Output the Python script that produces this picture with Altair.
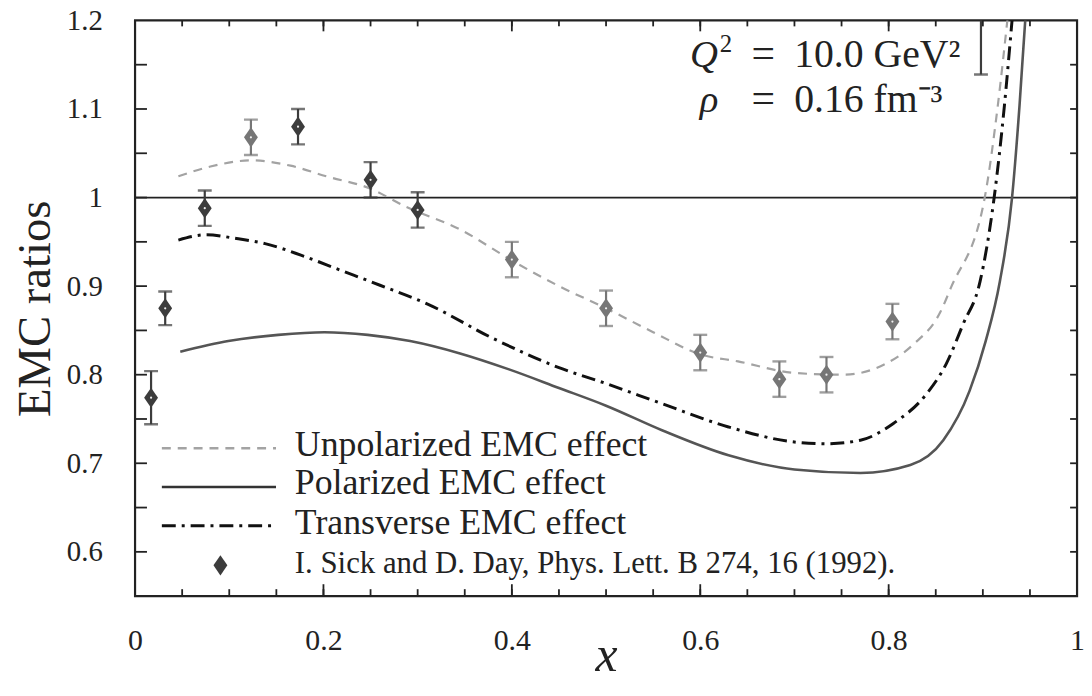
import altair as alt
import pandas as pd

# ---------------- data ----------------
pt_x = [0.017, 0.032, 0.074, 0.123, 0.173, 0.250, 0.300, 0.400, 0.500, 0.600, 0.684, 0.734, 0.804, 0.898]
pt_y = [0.774, 0.875, 0.988, 1.068, 1.080, 1.020, 0.986, 0.930, 0.875, 0.825, 0.795, 0.800, 0.860, 1.220]
pt_err = [0.030, 0.019, 0.020, 0.020, 0.020, 0.020, 0.020, 0.020, 0.020, 0.020, 0.020, 0.020, 0.020, 0.081]
pt_shade = ["dark", "dark", "dark", "grey", "dark", "dark", "dark",
            "grey", "grey", "grey", "grey", "grey", "grey", "dark"]

unpol_x = [0.046, 0.080, 0.123, 0.165, 0.203, 0.250, 0.287, 0.345, 0.400, 0.450, 0.500, 0.550,
           0.600, 0.640, 0.700, 0.752, 0.798, 0.826, 0.855, 0.866, 0.902, 0.916, 0.926, 0.932]
unpol_y = [1.024, 1.035, 1.042, 1.036, 1.024, 1.010, 0.990, 0.964, 0.929, 0.900, 0.875, 0.848,
           0.823, 0.815, 0.802, 0.800, 0.813, 0.834, 0.871, 0.898, 1.000, 1.105, 1.200, 1.260]

pol_x = [0.048, 0.099, 0.152, 0.201, 0.247, 0.292, 0.345, 0.397, 0.450, 0.500, 0.560, 0.630,
         0.700, 0.770, 0.823, 0.858, 0.886, 0.903, 0.918, 0.931, 0.939, 0.945, 0.950]
pol_y = [0.826, 0.838, 0.845, 0.848, 0.845, 0.838, 0.824, 0.806, 0.785, 0.765, 0.737, 0.709,
         0.693, 0.689, 0.698, 0.726, 0.782, 0.838, 0.905, 1.000, 1.105, 1.200, 1.260]

trans_x = [0.046, 0.076, 0.106, 0.138, 0.176, 0.218, 0.260, 0.310, 0.380, 0.450, 0.500, 0.560,
           0.630, 0.700, 0.734, 0.770, 0.805, 0.840, 0.861, 0.879, 0.897, 0.912, 0.923, 0.931, 0.936]
trans_y = [0.952, 0.958, 0.954, 0.948, 0.935, 0.918, 0.901, 0.880, 0.841, 0.808, 0.790, 0.767,
           0.741, 0.724, 0.722, 0.726, 0.745, 0.778, 0.812, 0.857, 0.905, 1.000, 1.105, 1.200, 1.260]

reference_line = [1.0]

x_tick_values = [0, 0.2, 0.4, 0.6, 0.8, 1]
y_tick_values = [0.6, 0.7, 0.8, 0.9, 1.0, 1.1, 1.2]
x_minor_ticks = [0.05, 0.10, 0.15, 0.20, 0.25, 0.30, 0.35, 0.40, 0.45, 0.50, 0.55, 0.60,
                 0.65, 0.70, 0.75, 0.80, 0.85, 0.90, 0.95]
x_major_ticks = [0.2, 0.4, 0.6, 0.8]
y_minor_ticks = [0.60, 0.65, 0.70, 0.75, 0.80, 0.85, 0.90, 0.95, 1.00, 1.05, 1.10, 1.15]

legend_labels = ["Unpolarized EMC effect", "Polarized EMC effect", "Transverse EMC effect",
                 "I. Sick and D. Day, Phys. Lett. B 274, 16 (1992)."]

# ---------------- styling ----------------
FONT = "Liberation Serif"
W, H = 949, 580
DARK = "#3c3c3c"
GREY = "#767676"

xs = alt.Scale(domain=[0, 1], nice=False, zero=False)
ys = alt.Scale(domain=[0.55, 1.2], nice=False, zero=False)

xaxis = alt.Axis(title="x", values=x_tick_values, format=".1~f", ticks=False, domain=False,
                 grid=False, labelFont=FONT, labelFontSize=30, labelColor="#222",
                 labelPadding=54, labelBaseline="alphabetic", labelFlush=False,
                 labelOverlap=False, titleFont=FONT, titleFontSize=50, titleFontStyle="italic",
                 titleFontWeight="normal", titleColor="#222", titleBaseline="alphabetic",
                 titleX=W / 2, titleY=75)
yaxis = alt.Axis(title="EMC ratios", values=y_tick_values, format=".1~f", ticks=False,
                 domain=False, grid=False, labelFont=FONT, labelFontSize=29, labelColor="#222",
                 labelPadding=33, labelFlush=False, labelOverlap=False, titleFont=FONT,
                 titleFontSize=47, titleFontWeight="normal", titleColor="#222",
                 titleBaseline="alphabetic", titleAngle=270, titleX=-86, titleY=H / 2)


def X(f):
    return alt.X(f, type="quantitative", scale=xs, axis=xaxis)


def Y(f):
    return alt.Y(f, type="quantitative", scale=ys, axis=yaxis)


# ---------------- tables ----------------
pts = pd.DataFrame({"x": pt_x, "y": pt_y, "err": pt_err, "shade": pt_shade})
pts["lo"] = pts["y"] - pts["err"]
pts["hi"] = pts["y"] + pts["err"]

curves = {
    "unpol": pd.DataFrame({"x": unpol_x, "y": unpol_y}),
    "pol": pd.DataFrame({"x": pol_x, "y": pol_y}),
    "trans": pd.DataFrame({"x": trans_x, "y": trans_y}),
}

shade_color = alt.Color("shade:N", scale=alt.Scale(domain=["dark", "grey"], range=[DARK, GREY]),
                        legend=None)

layers = []

# horizontal reference line at 1
layers.append(alt.Chart(pd.DataFrame({"y": reference_line})).mark_rule(
    color="#222", strokeWidth=1.7).encode(y=Y("y")))

# theory curves
layers.append(alt.Chart(curves["unpol"]).mark_line(
    color="#a3a3a3", strokeWidth=2.2, strokeDash=[9, 7], interpolate="monotone", clip=True
).encode(x=X("x"), y=Y("y")))
layers.append(alt.Chart(curves["pol"]).mark_line(
    color="#555555", strokeWidth=2.6, interpolate="monotone", clip=True
).encode(x=X("x"), y=Y("y")))
layers.append(alt.Chart(curves["trans"]).mark_line(
    color="#111111", strokeWidth=3, strokeDash=[14, 6, 3, 6], interpolate="monotone", clip=True
).encode(x=X("x"), y=Y("y")))

# data points: error bars, caps, diamonds
pt_base = alt.Chart(pts)
layers.append(pt_base.mark_rule(strokeWidth=2.2, clip=True).encode(
    x=X("x"), y=Y("lo"), y2=alt.Y2("hi"), color=shade_color))
layers.append(pt_base.mark_tick(orient="horizontal", size=14, thickness=2.4, clip=True).encode(
    x=X("x"), y=Y("lo"), color=shade_color))
layers.append(pt_base.mark_tick(orient="horizontal", size=14, thickness=2.4, clip=True).encode(
    x=X("x"), y=Y("hi"), color=shade_color))
DIAMOND = "M0,-1.45L1,0L0,1.45L-1,0Z"
layers.append(pt_base.mark_point(shape=DIAMOND, size=196, filled=True, opacity=1, clip=True).encode(
    x=X("x"), y=Y("y"), color=shade_color))
layers.append(pt_base.mark_point(shape="circle", size=5, filled=True, opacity=0.9,
                                 color="white", clip=True).encode(x=X("x"), y=Y("y")))


# inward frame ticks
def tick_layer(values, axis_side, length):
    df = pd.DataFrame({"v": values})
    ch = alt.Chart(df).mark_rule(color="#222", strokeWidth=1.8)
    if axis_side == "bottom":
        return ch.encode(x=X("v"), y=alt.value(H), y2=alt.value(H - length))
    if axis_side == "top":
        return ch.encode(x=X("v"), y=alt.value(0), y2=alt.value(length))
    if axis_side == "left":
        return ch.encode(y=Y("v"), x=alt.value(0), x2=alt.value(length))
    return ch.encode(y=Y("v"), x=alt.value(W), x2=alt.value(W - length))


layers.append(tick_layer(x_minor_ticks, "bottom", 7))
layers.append(tick_layer(x_major_ticks, "bottom", 12))
layers.append(tick_layer(x_minor_ticks, "top", 6))
layers.append(tick_layer(x_major_ticks, "top", 11))
layers.append(tick_layer(y_minor_ticks, "left", 12))
layers.append(tick_layer(y_minor_ticks, "right", 7))

one = pd.DataFrame({"a": [0]})


def text_at(txt, px, py, size, style="normal", color="#222", align="left"):
    return alt.Chart(one).mark_text(
        text=txt, font=FONT, fontSize=size, fontStyle=style, color=color,
        align=align, baseline="alphabetic").encode(x=alt.value(px), y=alt.value(py))


# legend
layers.append(alt.Chart(one).mark_rule(color="#a3a3a3", strokeWidth=2.6, strokeDash=[9, 7]).encode(
    x=alt.value(27), x2=alt.value(142), y=alt.value(431)))
layers.append(alt.Chart(one).mark_rule(color="#333333", strokeWidth=2.6).encode(
    x=alt.value(27), x2=alt.value(142), y=alt.value(470)))
layers.append(alt.Chart(one).mark_rule(color="#111111", strokeWidth=3, strokeDash=[14, 6, 3, 6]).encode(
    x=alt.value(27), x2=alt.value(142), y=alt.value(509)))
layers.append(alt.Chart(one).mark_point(shape=DIAMOND, size=196, filled=True, opacity=1,
                                        color=DARK).encode(x=alt.value(86), y=alt.value(549)))
layers.append(text_at(legend_labels[0], 161, 439, 36))
layers.append(text_at(legend_labels[1], 161, 477, 36))
layers.append(text_at(legend_labels[2], 161, 517, 36))
layers.append(text_at(legend_labels[3], 161, 557, 31))

# annotation
layers.append(text_at("Q", 559, 47, 39, style="italic"))
layers.append(text_at("2", 589, 32, 25))
layers.append(text_at("=", 621, 47, 42))
layers.append(text_at("10.0 GeV²", 664, 47, 40))
layers.append(text_at("ρ", 569, 92, 39, style="italic"))
layers.append(text_at("=", 621, 92, 42))
layers.append(text_at("0.16 fm⁻³", 664, 92, 40))

chart = alt.layer(*layers).properties(
    width=W, height=H,
    autosize=alt.AutoSizeParams(type="none"),
    padding={"left": 128, "top": 10, "right": 7, "bottom": 84},
    background="white",
).configure_view(stroke="#222", strokeWidth=2.2
).configure_axis(labelFont=FONT, titleFont=FONT
).configure_text(font=FONT)

chart.save("out.html", embed_options={"renderer": "svg", "actions": False})
